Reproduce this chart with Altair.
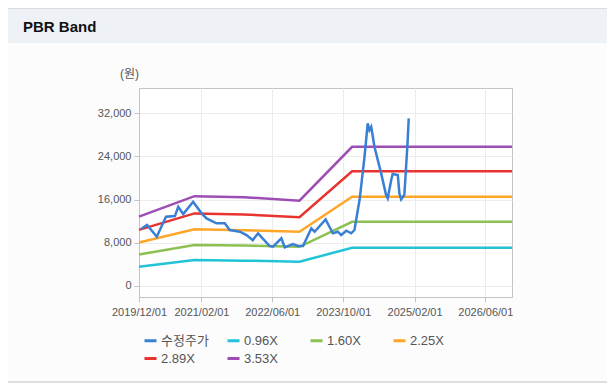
import altair as alt
import pandas as pd

# ---- data ----
price_dates = [
    "2019-12-15", "2020-01-25", "2020-04-01", "2020-06-03", "2020-08-03", "2020-08-26",
    "2020-09-29", "2020-12-06", "2021-02-02", "2021-03-08", "2021-05-15", "2021-07-11",
    "2021-08-14", "2021-10-22", "2021-12-07", "2022-01-19", "2022-02-24", "2022-05-15",
    "2022-06-07", "2022-08-03", "2022-08-26", "2022-10-21", "2022-11-25", "2022-12-29",
    "2023-02-24", "2023-03-19", "2023-06-02", "2023-07-22", "2023-08-25", "2023-09-17",
    "2023-10-22", "2023-11-25", "2023-12-17", "2024-01-09", "2024-01-21", "2024-02-24",
    "2024-03-17", "2024-03-29", "2024-04-10", "2024-05-02", "2024-06-17", "2024-07-21",
    "2024-08-01", "2024-08-25", "2024-09-04", "2024-10-09", "2024-10-20", "2024-11-01",
    "2024-11-23", "2024-12-05", "2024-12-16", "2024-12-23",
]
price_values = [
    10560, 11300, 9130, 12830, 12960, 14690,
    13330, 15610, 13460, 12530, 11610, 11610,
    10370, 10060, 9440, 8500, 9760, 7410,
    7290, 8830, 7160, 7780, 7410, 7410,
    10680, 10060, 12350, 9760, 10060, 9440,
    10240, 9760, 10370, 14080, 15930, 23950,
    30130, 28890, 29500, 25800, 20870, 16850,
    16240, 19630, 20740, 20560, 17170, 16060,
    16900, 22090, 27040, 31060,
]

band_dates = ["2019-12-01", "2020-12-15", "2021-11-20", "2022-12-05", "2023-12-01", "2026-12-01"]
band_096 = [3550, 4800, 4700, 4500, 7080, 7080]
band_160 = [5850, 7600, 7500, 7250, 11900, 11900]
band_225 = [8050, 10500, 10350, 10050, 16550, 16550]
band_289 = [10400, 13450, 13250, 12750, 21250, 21250]
band_353 = [12850, 16650, 16450, 15800, 25800, 25800]

series_order = ["수정주가", "0.96X", "1.60X", "2.25X", "2.89X", "3.53X"]
series_colors = ["#3a7fd6", "#22c3d6", "#8cc152", "#ffa629", "#e8332f", "#9d4db3"]

y_ticks = [0, 8000, 16000, 24000, 32000]
x_ticks = [(2019, 12), (2021, 2), (2022, 6), (2023, 10), (2025, 2), (2026, 6)]

# ---- tables ----
price_df = pd.DataFrame({"date": price_dates, "value": price_values, "series": "수정주가"})
band_lists = [band_096, band_160, band_225, band_289, band_353]
band_df = pd.concat(
    [pd.DataFrame({"date": band_dates, "value": vals, "series": name})
     for name, vals in zip(series_order[1:], band_lists)],
    ignore_index=True,
)

FONT = "Liberation Sans, Noto Sans CJK KR, sans-serif"
GRAY = "#555555"
LINE = "#c4c4c4"

x_enc = alt.X(
    "date:T",
    scale=alt.Scale(
        type="utc",
        domain=[alt.DateTime(year=2019, month=12, date=1, utc=True),
                alt.DateTime(year=2026, month=12, date=1, utc=True)],
        nice=False,
    ),
    axis=alt.Axis(
        values=[alt.DateTime(year=y, month=m, date=1, utc=True) for y, m in x_ticks],
        format="%Y/%m/%d",
        labelFlush=False,
        labelOverlap=False,
        labelPadding=4,
        tickSize=5,
        labelFontSize=11,
        labelColor=GRAY,
        labelFont=FONT,
        tickColor=LINE,
        domainColor=LINE,
        gridColor="#ececec",
        title=None,
    ),
)
y_enc = alt.Y(
    "value:Q",
    scale=alt.Scale(domain=[-2040, 36690], nice=False, zero=False),
    axis=alt.Axis(
        values=y_ticks,
        format=",d",
        tickSize=5,
        labelPadding=3,
        labelFontSize=11,
        labelColor=GRAY,
        labelFont=FONT,
        tickColor=LINE,
        domainColor=LINE,
        gridColor="#ececec",
        title="(원)",
        titleAngle=0,
        titleX=-10,
        titleY=-15,
        titleAlign="center",
        titleBaseline="middle",
        titleFontWeight="normal",
        titleFontSize=12,
        titleColor=GRAY,
        titleFont=FONT,
    ),
)
color_enc = alt.Color(
    "series:N",
    scale=alt.Scale(domain=series_order, range=series_colors),
    sort=series_order,
    legend=alt.Legend(
        title=None,
        orient="none",
        legendX=4,
        legendY=245,
        direction="horizontal",
        columns=4,
        gridAlign="all",
        columnPadding=12,
        rowPadding=3,
        symbolType="stroke",
        symbolStrokeWidth=3,
        symbolSize=144,
        labelFontSize=13,
        labelColor=GRAY,
        labelFont=FONT,
        labelOffset=3,
    ),
)

bands = alt.Chart(band_df).mark_line(strokeWidth=2.5).encode(
    x=x_enc, y=y_enc, color=color_enc, detail="series:N"
)
price = alt.Chart(price_df).mark_line(strokeWidth=2.5).encode(
    x=x_enc, y=y_enc, color=color_enc
)

dummy = pd.DataFrame({"t": ["PBR Band"]})
header = alt.Chart(dummy).mark_rect(color="#eef2f7").encode(
    x=alt.value(-131), x2=alt.value(468), y=alt.value(-80), y2=alt.value(-45)
)
top_rule = alt.Chart(dummy).mark_rule(color="#d4d4d4", strokeWidth=1.5).encode(
    x=alt.value(-131), x2=alt.value(468), y=alt.value(-80)
)
bottom_rule = alt.Chart(dummy).mark_rule(color="#d4d4d4", strokeWidth=1.5).encode(
    x=alt.value(-131), x2=alt.value(468), y=alt.value(294)
)
title = alt.Chart(dummy).mark_text(
    align="left", baseline="middle", fontSize=15, fontWeight="bold",
    font="Liberation Sans, Noto Sans CJK KR, sans-serif", color="#111111",
).encode(x=alt.value(-116), y=alt.value(-61), text="t:N")

chart = (
    alt.layer(header, top_rule, bottom_rule, title, bands, price)
    .properties(
        width=373,
        height=209,
        autosize=alt.AutoSizeParams(type="none"),
        padding={"left": 131, "top": 80, "right": 95, "bottom": 86},
        background="#fcfcfd",
    )
    .configure_view(stroke=LINE, strokeWidth=1, fill="#ffffff")
)

chart.save("out.html", embed_options={"renderer": "svg", "actions": False})
